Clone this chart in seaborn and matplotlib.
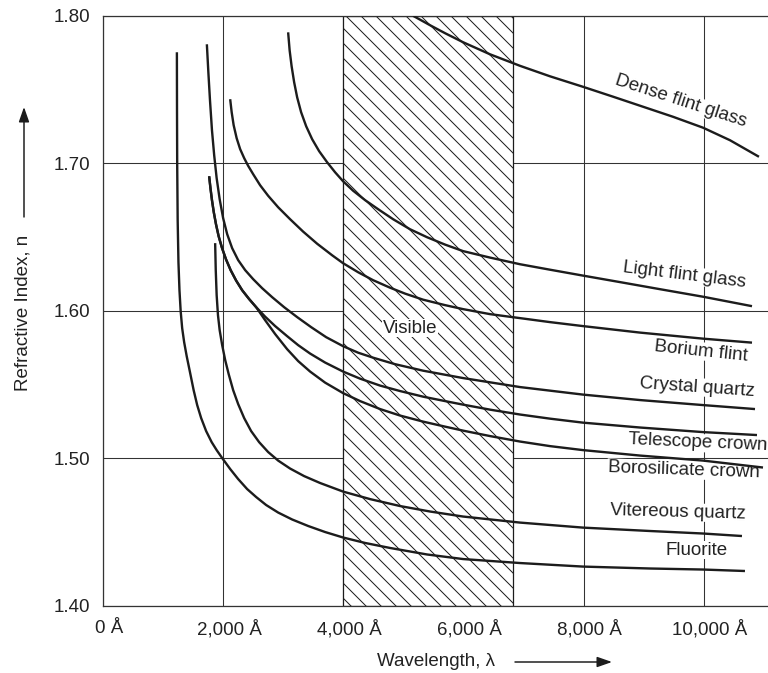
import matplotlib
matplotlib.use("Agg")
import matplotlib.pyplot as plt
import matplotlib.transforms as mtransforms
import seaborn as sns
import pandas as pd

# refractive index vs wavelength (angstrom)
fluorite_wl = [1230, 1232, 1235, 1243, 1256, 1273, 1293, 1318, 1351, 1393, 1451, 1509, 1568, 1634, 1717, 1809,
               1892, 1984, 2117, 2250, 2400, 2550, 2716, 2916, 3149, 3415, 3698, 3997, 4364, 4780, 5395, 5994,
               6943, 7991, 9106, 9989, 10687]
fluorite_n = [1.7751, 1.7358, 1.7000, 1.6613, 1.6329, 1.6139, 1.5997, 1.5882, 1.5787, 1.5693, 1.5578, 1.5462,
              1.5361, 1.5273, 1.5185, 1.5110, 1.5056, 1.5002, 1.4928, 1.4860, 1.4792, 1.4738, 1.4684, 1.4633,
              1.4586, 1.4542, 1.4501, 1.4464, 1.4427, 1.4393, 1.4349, 1.4318, 1.4291, 1.4267, 1.4254, 1.4247,
              1.4237]

vitreous_wl = [1867, 1877, 1892, 1914, 1942, 1984, 2034, 2092, 2167, 2250, 2350, 2466, 2599, 2749, 2916, 3115,
               3348, 3615, 3997, 4447, 4946, 5445, 5994, 6943, 7991, 9106, 9989, 10637]
vitreous_n = [1.6458, 1.6275, 1.6106, 1.5970, 1.5869, 1.5767, 1.5666, 1.5571, 1.5462, 1.5368, 1.5273, 1.5185,
              1.5110, 1.5043, 1.4985, 1.4931, 1.4880, 1.4833, 1.4775, 1.4724, 1.4677, 1.4640, 1.4606, 1.4565,
              1.4531, 1.4508, 1.4491, 1.4474]

boro_wl = [1767, 1789, 1814, 1844, 1881, 1925, 1980, 2047, 2125, 2217, 2317, 2433, 2550, 2699, 2866, 3065, 3249,
           3448, 3698, 3997, 4280, 4613, 4946, 5329, 5695, 5994, 6444, 6943, 7442, 7991, 8940, 9989, 10987]
boro_n = [1.6911, 1.6830, 1.6749, 1.6668, 1.6586, 1.6505, 1.6427, 1.6349, 1.6275, 1.6204, 1.6139, 1.6079, 1.6024,
          1.5936, 1.5842, 1.5740, 1.5659, 1.5588, 1.5513, 1.5442, 1.5388, 1.5334, 1.5290, 1.5249, 1.5215, 1.5188,
          1.5151, 1.5114, 1.5083, 1.5056, 1.5019, 1.4985, 1.4938]

telescope_wl = [1767, 1789, 1814, 1844, 1881, 1925, 1980, 2047, 2125, 2217, 2317, 2433, 2550, 2699, 2866, 3065,
                3249, 3448, 3698, 3997, 4280, 4613, 4946, 5329, 5695, 5994, 6444, 6943, 7442, 7991, 8940, 9989,
                10887]
telescope_n = [1.6911, 1.6830, 1.6749, 1.6668, 1.6586, 1.6505, 1.6427, 1.6349, 1.6275, 1.6204, 1.6139, 1.6079,
               1.6024, 1.5960, 1.5896, 1.5828, 1.5767, 1.5710, 1.5649, 1.5588, 1.5540, 1.5493, 1.5456, 1.5418,
               1.5388, 1.5364, 1.5330, 1.5297, 1.5269, 1.5242, 1.5209, 1.5178, 1.5158]

quartz_wl = [1729, 1754, 1781, 1814, 1851, 1892, 1942, 2000, 2067, 2150, 2250, 2367, 2500, 2649, 2816, 3016, 3232,
             3465, 3715, 3997, 4247, 4497, 4863, 5329, 5994, 6943, 7991, 8940, 9989, 10854]
quartz_n = [1.7805, 1.7615, 1.7426, 1.7223, 1.7053, 1.6898, 1.6756, 1.6627, 1.6519, 1.6424, 1.6343, 1.6275,
            1.6214, 1.6153, 1.6092, 1.6024, 1.5957, 1.5889, 1.5821, 1.5760, 1.5716, 1.5682, 1.5638, 1.5594,
            1.5544, 1.5483, 1.5432, 1.5395, 1.5361, 1.5334]

borium_wl = [2117, 2142, 2175, 2225, 2283, 2350, 2416, 2500, 2616, 2749, 2916, 3115, 3332, 3565, 3814, 3997, 4247,
             4497, 4780, 5029, 5329, 5695, 5994, 6444, 6943, 7442, 7991, 8940, 9989, 10804]
borium_n = [1.7433, 1.7345, 1.7257, 1.7169, 1.7095, 1.7034, 1.6982, 1.6925, 1.6850, 1.6779, 1.6701, 1.6620,
            1.6536, 1.6454, 1.6376, 1.6322, 1.6261, 1.6207, 1.6156, 1.6116, 1.6075, 1.6038, 1.6011, 1.5977,
            1.5950, 1.5923, 1.5896, 1.5852, 1.5811, 1.5784]

light_wl = [3082, 3107, 3140, 3182, 3232, 3298, 3382, 3482, 3598, 3731, 3864, 3997, 4164, 4364, 4580, 4830, 5112,
            5395, 5695, 5994, 6444, 6943, 7442, 7991, 8607, 9273, 9989, 10804]
light_n = [1.7886, 1.7764, 1.7656, 1.7548, 1.7446, 1.7345, 1.7250, 1.7162, 1.7081, 1.7006, 1.6938, 1.6877,
           1.6813, 1.6749, 1.6688, 1.6620, 1.6552, 1.6498, 1.6448, 1.6404, 1.6360, 1.6315, 1.6278, 1.6238,
           1.6194, 1.6146, 1.6095, 1.6031]

dense_wl = [5162, 5445, 5695, 5994, 6444, 6943, 7442, 7991, 8491, 8990, 9489, 9989, 10438, 10920]
dense_n = [1.7998, 1.7934, 1.7880, 1.7819, 1.7737, 1.7659, 1.7588, 1.7517, 1.7450, 1.7382, 1.7314, 1.7240,
           1.7155, 1.7043]

curves = {
    "Fluorite": (fluorite_wl, fluorite_n),
    "Vitereous quartz": (vitreous_wl, vitreous_n),
    "Borosilicate crown": (boro_wl, boro_n),
    "Telescope crown": (telescope_wl, telescope_n),
    "Crystal quartz": (quartz_wl, quartz_n),
    "Borium flint": (borium_wl, borium_n),
    "Light flint glass": (light_wl, light_n),
    "Dense flint glass": (dense_wl, dense_n),
}

# label text, anchor (wavelength, n), rotation
labels = [
    ("Dense flint glass", 9619, 1.7419, -18),
    ("Light flint glass", 9686, 1.6241, -7),
    ("Borium flint", 9952, 1.5726, -6),
    ("Crystal quartz", 9886, 1.5483, -4),
    ("Telescope crown", 9902, 1.5104, -2.5),
    ("Borosilicate crown", 9669, 1.4921, -2),
    ("Vitereous quartz", 9569, 1.4636, -1.5),
    ("Fluorite", 9886, 1.4379, 0),
]

visible_band = (4000, 6830)
xticks = [0, 2000, 4000, 6000, 8000, 10000]
xtick_labels = ["0 Å", "2,000 Å", "4,000 Å", "6,000 Å", "8,000 Å", "10,000 Å"]
yticks = [1.40, 1.50, 1.60, 1.70, 1.80]

rows = []
for name, (wl, n) in curves.items():
    for a, b in zip(wl, n):
        rows.append({"glass": name, "wavelength": a, "n": b})
df = pd.DataFrame(rows)

sns.set_style("white")
plt.rcParams['font.family'] = ['Liberation Sans', 'DejaVu Sans']
plt.rcParams['hatch.linewidth'] = 0.8

W, H, DPI = 768, 673, 90
fig = plt.figure(figsize=(W / DPI, H / DPI), dpi=DPI)
ax = fig.add_axes([103 / W, 1 - 606 / H, 1 - 103 / W, (606 - 15.5) / H])

ink = "#1c1c1c"
ax.axvspan(*visible_band, facecolor="white", edgecolor=ink, hatch="\\\\", lw=1.0, zorder=1)

sns.lineplot(data=df, x="wavelength", y="n", units="glass", estimator=None, sort=False,
             color=ink, lw=1.9, ax=ax, zorder=3, legend=False)
for ln in ax.lines:
    ln.set_solid_joinstyle("round")
    ln.set_solid_capstyle("butt")

for text, x, y, rot in labels:
    ax.text(x, y, text, rotation=rot, rotation_mode="anchor", ha="center", va="center",
            fontsize=15, color="#222222", zorder=2.5,
            bbox=dict(facecolor="white", edgecolor="none", pad=0.5))
ax.text(5109, 1.5882, "Visible", ha="center", va="center", fontsize=15, color="#222222",
        zorder=2.5, bbox=dict(facecolor="white", edgecolor="none", pad=0.5))

ax.set_xlim(0, (W - 102.8) / 0.060088)
ax.set_ylim(1.40, 1.80)
ax.set_xticks(xticks)
ax.set_xticklabels(xtick_labels)
ax.set_yticks(yticks)
ax.set_yticklabels([f"{v:.2f}" for v in yticks])
ax.tick_params(length=0, labelsize=15, colors="#222222")
ax.tick_params(axis="x", pad=11)
ax.tick_params(axis="y", pad=10)
shift = mtransforms.ScaledTranslation(6 / DPI, 0, fig.dpi_scale_trans)
for lab in ax.get_xticklabels():
    lab.set_transform(lab.get_transform() + shift)
ax.grid(True, color="#333333", lw=0.85, zorder=0)
ax.set_axisbelow(True)
for side in ["left", "top", "bottom"]:
    ax.spines[side].set_color("#333333")
    ax.spines[side].set_linewidth(1.0)
ax.spines["right"].set_visible(False)
ax.set_xlabel("")
ax.set_ylabel("")


def fpos(px, py):
    return (px / W, 1 - py / H)


fig.text(*fpos(23, 313), "Refractive Index, n", rotation=90, ha="center", va="center",
         fontsize=15, color="#222222")
fig.text(*fpos(377, 662), "Wavelength, λ", ha="left", va="center", fontsize=15, color="#222222")
arrow = dict(arrowstyle="-|>,head_length=1.0,head_width=0.35", color=ink, lw=1.2, shrinkA=0, shrinkB=0)
ax.annotate("", xy=fpos(24, 107), xytext=fpos(24, 217), xycoords="figure fraction",
            textcoords="figure fraction", arrowprops=arrow)
ax.annotate("", xy=fpos(612, 662), xytext=fpos(515, 662), xycoords="figure fraction",
            textcoords="figure fraction", arrowprops=arrow)

fig.savefig("out.png", dpi=DPI)
